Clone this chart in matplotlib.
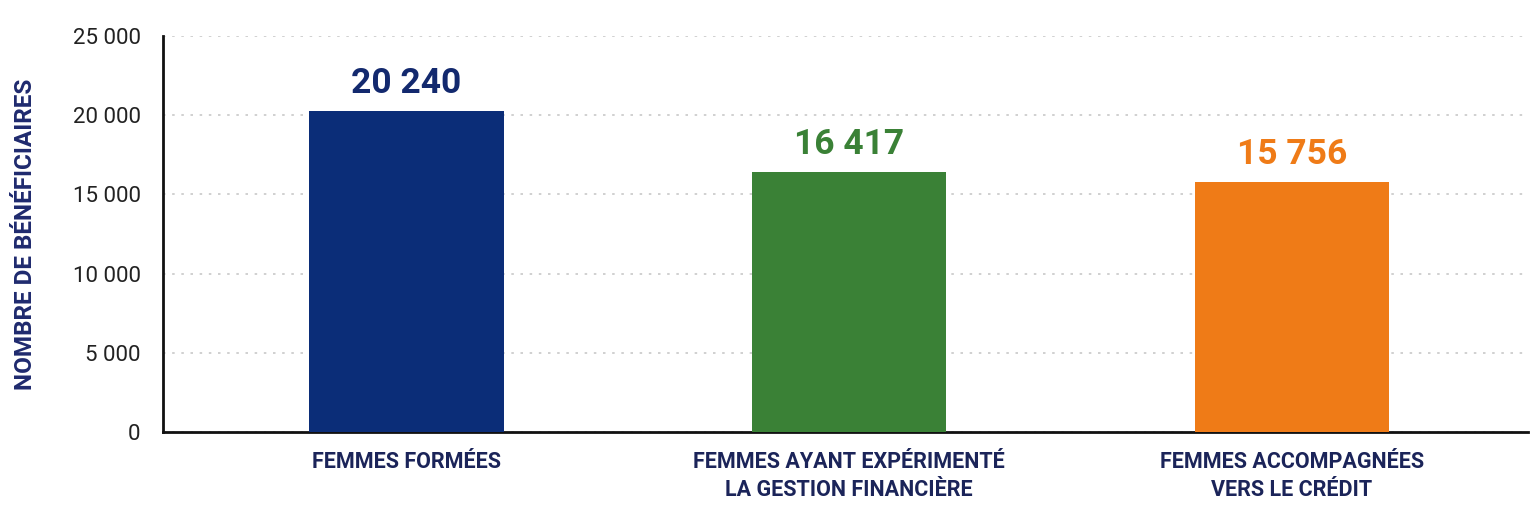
import matplotlib
matplotlib.use('Agg')
import matplotlib.pyplot as plt
from matplotlib.ticker import FuncFormatter

categories = ['FEMMES FORMÉES',
              'FEMMES AYANT EXPÉRIMENTÉ\nLA GESTION FINANCIÈRE',
              'FEMMES ACCOMPAGNÉES\nVERS LE CRÉDIT']
values = [20240, 16417, 15756]
bar_colors = ['#0b2d78', '#3a8136', '#ef7b17']
label_colors = ['#13296e', '#3a8136', '#ef7b17']
yticks = [0, 5000, 10000, 15000, 20000, 25000]

NAVY = '#1b2459'


def fmt_space(v, pos=None):
    return f"{int(v):,}".replace(',', ' ')


plt.rcParams['font.family'] = ['Roboto', 'DejaVu Sans']

fig = plt.figure(figsize=(15.36, 5.15), dpi=100)
ax = fig.add_axes([0.1061, 0.1612, 0.8887, 0.7690])

x = list(range(len(values)))
ax.bar(x, values, width=0.44, color=bar_colors, zorder=3)

for xi, v, c in zip(x, values, label_colors):
    ax.text(xi, v + 700, fmt_space(v), ha='center', va='bottom',
            fontsize=25.5, fontweight='bold', color=c)

ax.set_xlim(-0.549, 2.533)
ax.set_ylim(0, 25000)
ax.set_yticks(yticks)
ax.yaxis.set_major_formatter(FuncFormatter(fmt_space))
ax.set_xticks(x)
ax.set_xticklabels(categories, fontsize=15.5, fontweight='bold', color=NAVY,
                   linespacing=1.35)
ax.tick_params(axis='both', length=0)
ax.tick_params(axis='y', labelsize=16, labelcolor='#222222', pad=16)
ax.tick_params(axis='x', pad=14)

ax.grid(axis='y', linestyle=(0, (1.5, 4)), color='#c8c8c8', linewidth=1.2, zorder=0)
for side in ['top', 'right']:
    ax.spines[side].set_visible(False)
for side in ['left', 'bottom']:
    ax.spines[side].set_linewidth(2)
    ax.spines[side].set_color('#111111')

ax.set_ylabel('NOMBRE DE BÉNÉFICIAIRES', fontsize=17.5, fontweight='bold',
              color='#1f2a6e', labelpad=26)

fig.savefig('out.png', dpi=100, facecolor='white')
